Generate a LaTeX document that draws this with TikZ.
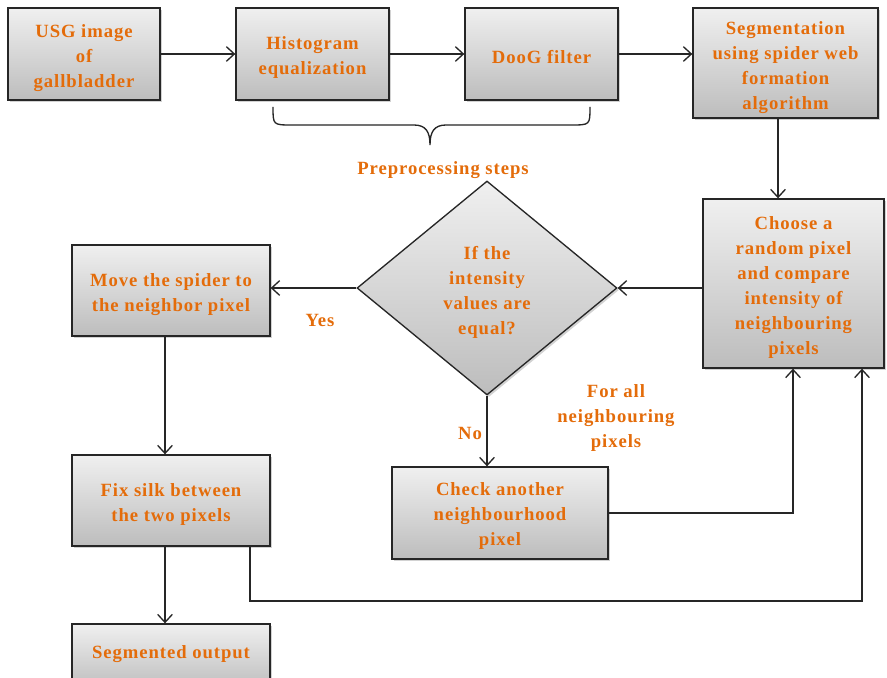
\documentclass[tikz,border=0pt]{standalone}
\usepackage{fontspec}
\setmainfont{Liberation Serif}
\newfontfamily\lblfont{Liberation Serif}[LetterSpace=5]
\usetikzlibrary{arrows.meta,shapes.geometric,shadows}
\definecolor{txtor}{HTML}{E46C0A}
\begin{document}
\begin{tikzpicture}[x=0.75pt,y=-0.75pt,
  lbl/.style={text=txtor,font=\lblfont\bfseries\fontsize{14}{18.75}\selectfont,align=center,inner sep=0pt},
  blk/.style={draw=black!85,line width=1pt,top color=black!6,bottom color=black!26,
     drop shadow={shadow xshift=1.5pt,shadow yshift=-1.5pt,opacity=0.35},
     inner sep=0pt},
  dia/.style={diamond,draw=black!85,line width=1pt,top color=black!6,bottom color=black!26,
     drop shadow={shadow xshift=1.5pt,shadow yshift=-1.5pt,opacity=0.35},inner sep=0pt,
     minimum width=195pt,minimum height=160.5pt},
  arr/.style={draw=black!85,line width=1pt,-{Straight Barb[length=6pt,width=11pt]}},
  ln/.style={draw=black!85,line width=1pt}]
\clip (0,0) rectangle (887,677);
\fill[white] (0,0) rectangle (887,677);

\node[blk,minimum width=114pt,minimum height=69pt] (usg) at (84,54) {};
\node[blk,minimum width=114.75pt,minimum height=69pt] (hist) at (312.5,54) {};
\node[blk,minimum width=114.75pt,minimum height=69pt] (doog) at (541.5,54) {};
\node[blk,minimum width=138.75pt,minimum height=82.5pt] (seg) at (785.5,63) {};
\node[blk,minimum width=135.75pt,minimum height=126.75pt] (choose) at (793.5,283.5) {};
\node[dia] (dec) at (487,288) {};
\node[blk,minimum width=148.5pt,minimum height=68.25pt] (move) at (171,290.5) {};
\node[blk,minimum width=148.5pt,minimum height=68.25pt] (fix) at (171,500.5) {};
\node[blk,minimum width=148.5pt,minimum height=49.5pt] (out) at (171,657) {};
\node[blk,minimum width=162pt,minimum height=69pt] (check) at (500,513) {};

\node[lbl] (usgt) at (84,58.5) {USG image\\of\\gallbladder};
\node[lbl] (histt) at (312.5,58) {Histogram\\equalization};
\node[lbl] (doogt) at (541.5,57.5) {DooG filter};
\node[lbl] (segt) at (785.5,68) {Segmentation\\using spider web\\formation\\algorithm};
\node[lbl] (chooset) at (793.5,287.5) {Choose a\\random pixel\\and compare\\intensity of\\neighbouring\\pixels};
\node[lbl] (dect) at (487,292.5) {If the\\intensity\\values are\\equal?};
\node[lbl] (movet) at (171,295) {Move the spider to\\the neighbor pixel};
\node[lbl] (fixt) at (171,505) {Fix silk between\\the two pixels};
\node[lbl] (outt) at (171,654) {Segmented output};
\node[lbl] (checkt) at (500,516.5) {Check another\\neighbourhood\\pixel};

\node[lbl] (pre) at (443,170) {Preprocessing steps};
\node[lbl] (yes) at (320,320) {Yes};
\node[lbl] (no) at (470,433) {No};
\node[lbl] (forall) at (616,418.5) {For all\\neighbouring\\pixels};

\coordinate (sx) at (778,0);
\coordinate (lx) at (165,0);
\coordinate (cx) at (793,0);
\coordinate (bl) at (250,601);
\coordinate (br) at (862,601);

\draw[arr] (usg.east) -- (hist.west);
\draw[arr] (hist.east) -- (doog.west);
\draw[arr] (doog.east) -- (seg.west |- doog.east);
\draw[arr] (seg.south -| sx) -- (choose.north -| sx);
\draw[arr] (choose.west |- dec.east) -- (dec.east);
\draw[arr] (dec.west) -- (move.east |- dec.west);
\draw[arr] (move.south -| lx) -- (fix.north -| lx);
\draw[arr] (fix.south -| lx) -- (out.north -| lx);
\draw[arr] (dec.south) -- (check.north -| dec.south);
\draw[arr] (check.east) -| (choose.south -| cx);
\draw[arr] (fix.south -| bl) -- (bl) -- (br) -- (choose.south -| br);

\draw[ln] (273,107) .. controls (273,125) .. (292,125) -- (414,125)
  .. controls (426,125) and (430,132) .. (430,145)
  .. controls (430,132) and (434,125) .. (446,125) -- (571,125)
  .. controls (590,125) .. (590,107);
\end{tikzpicture}
\end{document}
